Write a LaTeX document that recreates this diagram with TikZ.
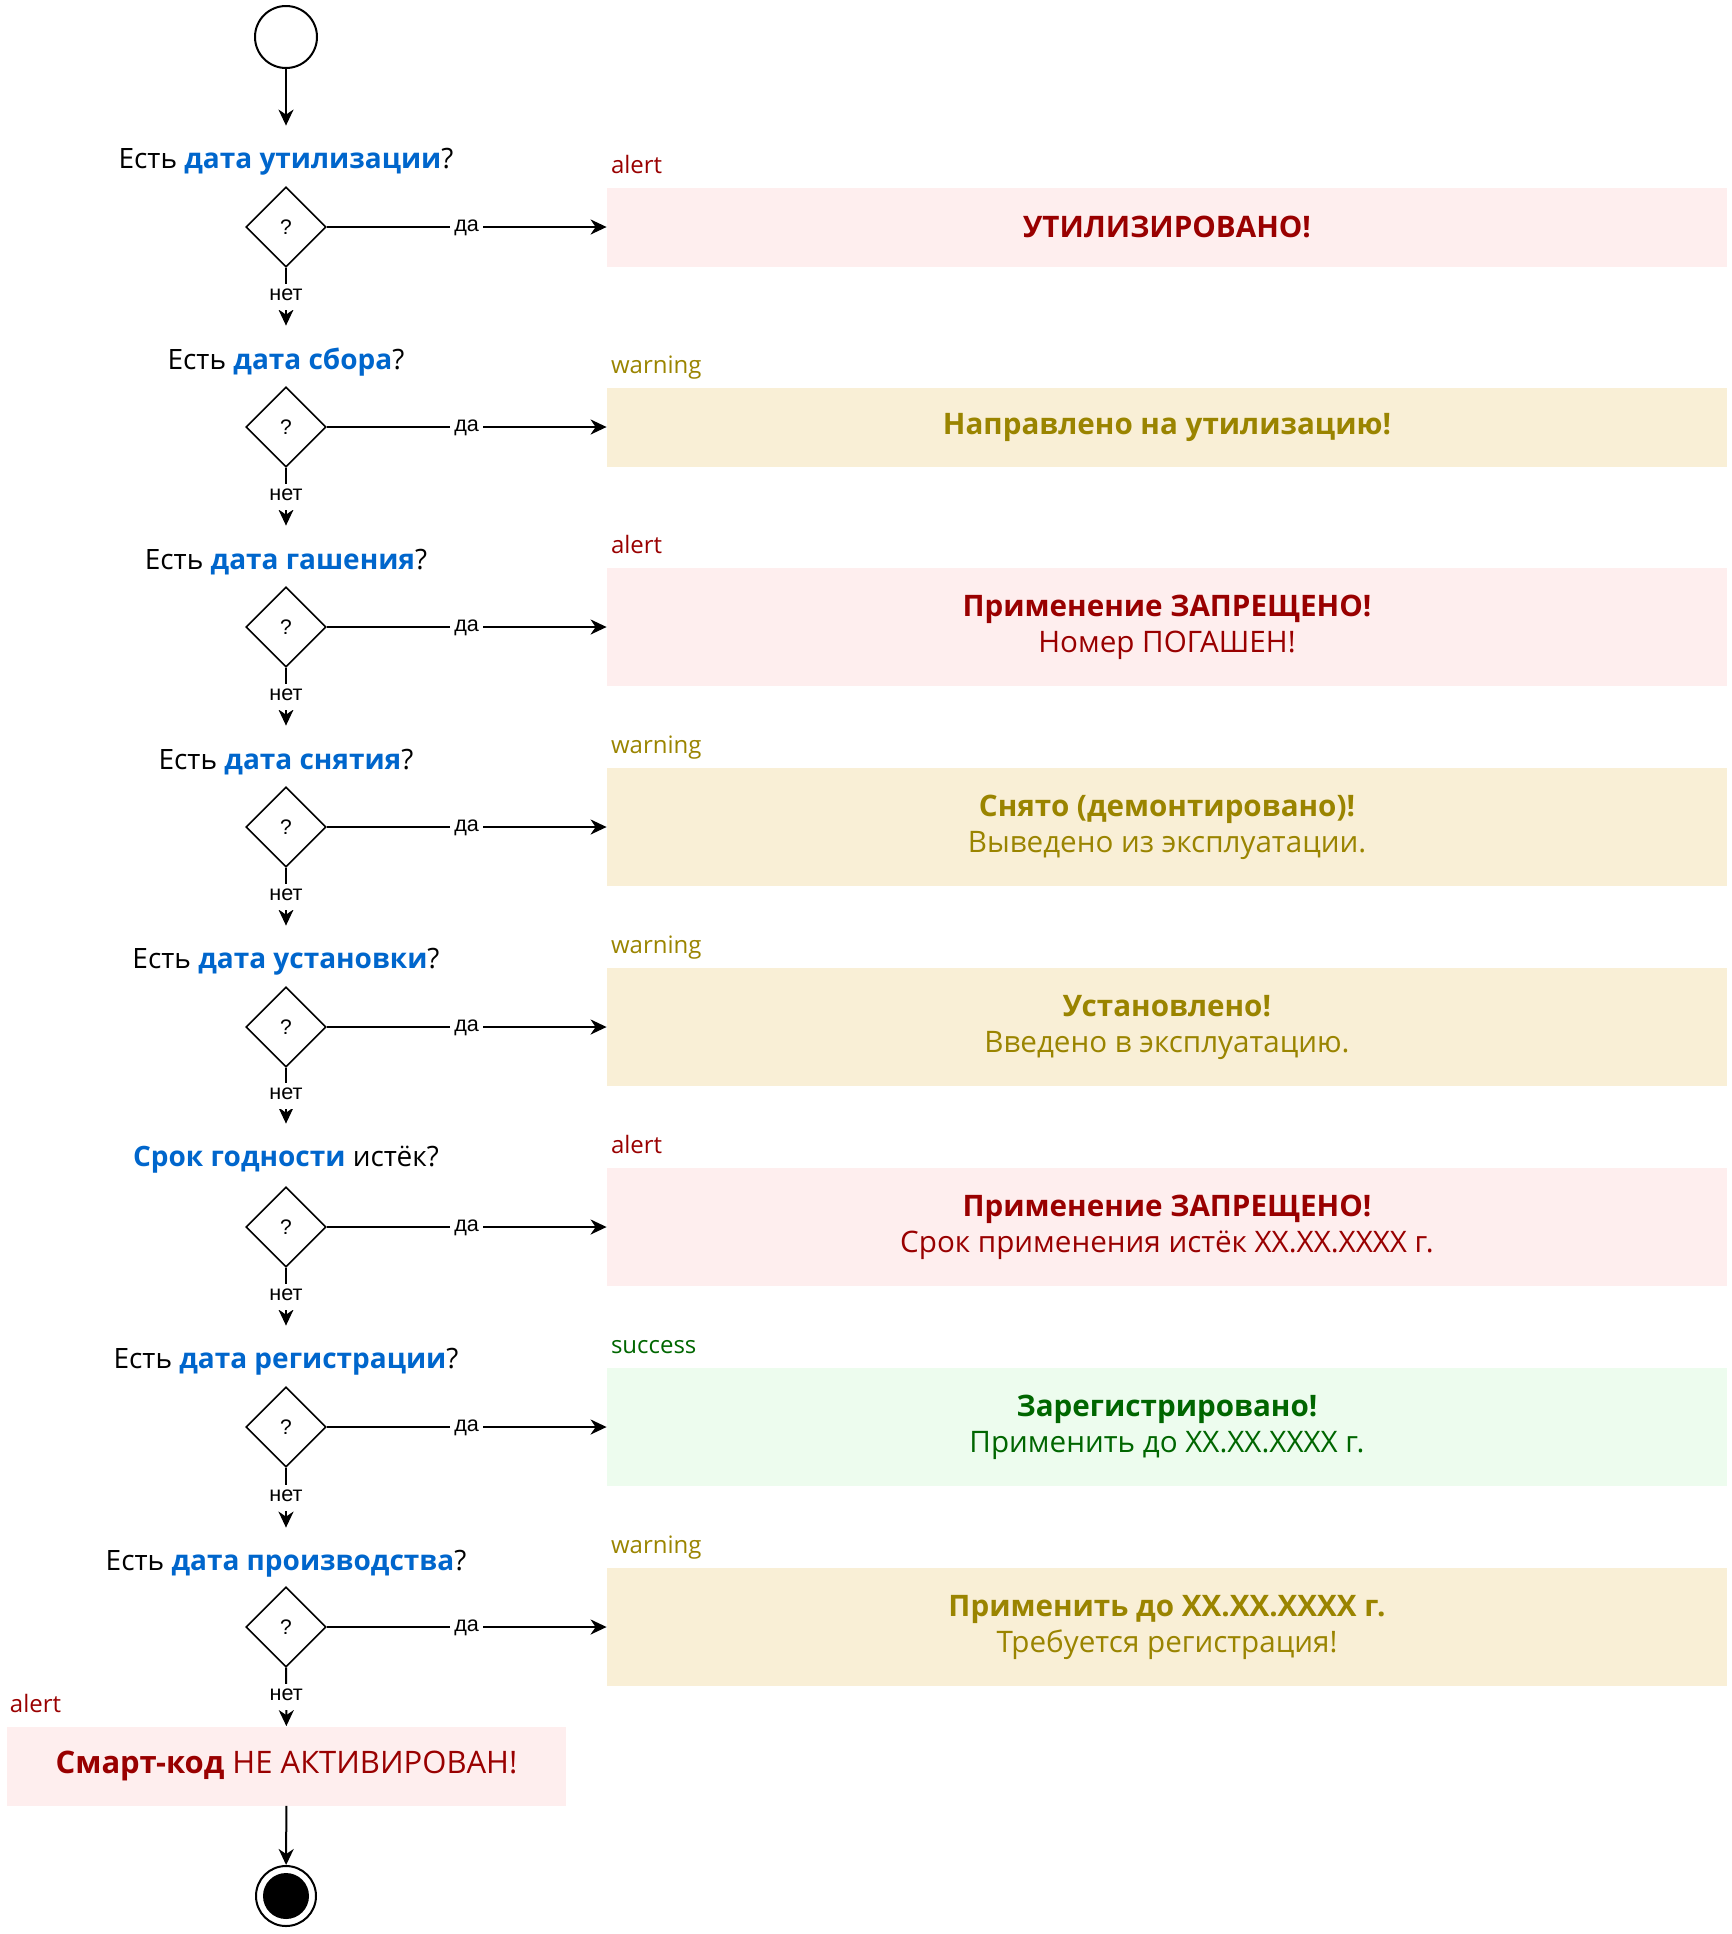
\documentclass[tikz,border=0pt]{standalone}
\usepackage{fontspec}
\setmainfont{Open Sans}
\newfontfamily\labelfont{Liberation Sans}
\usepackage{xcolor}
\usetikzlibrary{arrows.meta,positioning,shapes.geometric}
\definecolor{askblue}{HTML}{0066CC}
\definecolor{alerttext}{HTML}{990000}
\definecolor{alertfill}{HTML}{FEEEEE}
\definecolor{warntext}{HTML}{9A8400}
\definecolor{warnfill}{HTML}{F9EFD6}
\definecolor{oktext}{HTML}{006600}
\definecolor{okfill}{HTML}{EDFCEE}
\tikzset{%
	startdot/.style = {draw, circle, line width=1pt, minimum size=31pt},
	enddot/.style   = {draw, circle, line width=1pt, minimum size=30pt, path picture={\fill (path picture bounding box.center) circle (11.5pt);}},
	question/.style = {minimum height=36pt, text centered, font=\fontsize{14}{17}\selectfont},
	choice/.style   = {draw, diamond, aspect=1, minimum width=40pt, minimum height=40pt, inner sep=0pt, line width=0.8pt, font=\labelfont\fontsize{10.5}{12}\selectfont},
	msgbox/.style   = {rectangle, minimum width=560pt, align=center, font=\fontsize{14.8}{18}\selectfont},
	alertbox/.style = {msgbox, fill=alertfill, text=alerttext},
	warnbox/.style  = {msgbox, fill=warnfill, text=warntext},
	okbox/.style    = {msgbox, fill=okfill, text=oktext},
	short/.style    = {minimum height=39.5pt},
	tall/.style     = {minimum height=59pt},
	tag/.style      = {anchor=base west, inner sep=0pt, font=\fontsize{12}{14}\selectfont},
	answer/.style   = {fill=white, inner sep=2pt, text height=6.5pt, text depth=2.5pt, font=\labelfont\fontsize{10.8}{12}\selectfont},
	arrow/.style    = {line width=1pt, -{Stealth[length=8pt, width=7.5pt, inset=2.5pt]}},
}
\newcommand{\askword}[1]{{\bfseries\color{askblue}#1}}

\begin{document}
\begin{tikzpicture}[x=0.5pt, y=-0.5pt]
	\useasboundingbox (0,0) rectangle (1732,1934);
	
	\node[startdot] (s) at (286,37) {};
	
	\node[question] (q1) at (286,162) {Есть \askword{дата утилизации}?};
	\node[question] (q2) at (286,362) {Есть \askword{дата сбора}?};
	\node[question] (q3) at (286,562) {Есть \askword{дата гашения}?};
	\node[question] (q4) at (286,762) {Есть \askword{дата снятия}?};
	\node[question] (q5) at (286,962) {Есть \askword{дата установки}?};
	\node[question] (q6) at (286,1160) {\askword{Срок годности} истёк?};
	\node[question] (q7) at (286,1362) {Есть \askword{дата регистрации}?};
	\node[question] (q8) at (286,1564) {Есть \askword{дата производства}?};
	
	\node[choice] (d1) at (286,227) {?};
	\node[choice] (d2) at (286,427) {?};
	\node[choice] (d3) at (286,627) {?};
	\node[choice] (d4) at (286,827) {?};
	\node[choice] (d5) at (286,1027) {?};
	\node[choice] (d6) at (286,1227) {?};
	\node[choice] (d7) at (286,1427) {?};
	\node[choice] (d8) at (286,1627) {?};
	
	\node[alertbox,short] (b1) at (1167,227) {\textbf{УТИЛИЗИРОВАНО!}};
	\node[warnbox,short] (b2) at (1167,427) {\textbf{Направлено на утилизацию!}};
	\node[alertbox,tall] (b3) at (1167,627) {\textbf{Применение ЗАПРЕЩЕНО!}\\Номер ПОГАШЕН!};
	\node[warnbox,tall] (b4) at (1167,827) {\textbf{Снято (демонтировано)!}\\Выведено из эксплуатации.};
	\node[warnbox,tall] (b5) at (1167,1027) {\textbf{Установлено!}\\Введено в эксплуатацию.};
	\node[alertbox,tall] (b6) at (1167,1227) {\textbf{Применение ЗАПРЕЩЕНО!}\\Срок применения истёк XX.XX.XXXX г.};
	\node[okbox,tall] (b7) at (1167,1427) {\textbf{Зарегистрировано!}\\Применить до XX.XX.XXXX г.};
	\node[warnbox,tall] (b8) at (1167,1627) {\textbf{Применить до XX.XX.XXXX г.}\\Требуется регистрация!};
	
	\node[alertbox,short,minimum width=279.5pt,font=\fontsize{15.5}{18}\selectfont] (b9) at (286.5,1766) {\textbf{Смарт-код} НЕ АКТИВИРОВАН!};
	\node[enddot] (e) at (286,1896) {};
	
	\node[tag,text=alerttext] at ([xshift=2pt,yshift=7pt]b1.north west) {alert};
	\node[tag,text=warntext] at ([xshift=2pt,yshift=7pt]b2.north west) {warning};
	\node[tag,text=alerttext] at ([xshift=2pt,yshift=7pt]b3.north west) {alert};
	\node[tag,text=warntext] at ([xshift=2pt,yshift=7pt]b4.north west) {warning};
	\node[tag,text=warntext] at ([xshift=2pt,yshift=7pt]b5.north west) {warning};
	\node[tag,text=alerttext] at ([xshift=2pt,yshift=7pt]b6.north west) {alert};
	\node[tag,text=oktext] at ([xshift=2pt,yshift=7pt]b7.north west) {success};
	\node[tag,text=warntext] at ([xshift=2pt,yshift=7pt]b8.north west) {warning};
	\node[tag,text=alerttext] at ([xshift=1.5pt,yshift=7pt]b9.north west) {alert};
	
	% yes branches
	\draw[arrow] (d1) -- node[answer] {да} (b1);
	\draw[arrow] (d2) -- node[answer] {да} (b2);
	\draw[arrow] (d3) -- node[answer] {да} (b3);
	\draw[arrow] (d4) -- node[answer] {да} (b4);
	\draw[arrow] (d5) -- node[answer] {да} (b5);
	\draw[arrow] (d6) -- node[answer] {да} (b6);
	\draw[arrow] (d7) -- node[answer] {да} (b7);
	\draw[arrow] (d8) -- node[answer] {да} (b8);
	
	% no branches
	\draw[arrow] (s) -- (q1);
	\draw[arrow] (d1) -- node[answer] {нет} (q2);
	\draw[arrow] (d2) -- node[answer] {нет} (q3);
	\draw[arrow] (d3) -- node[answer] {нет} (q4);
	\draw[arrow] (d4) -- node[answer] {нет} (q5);
	\draw[arrow] (d5) -- node[answer] {нет} (q6);
	\draw[arrow] (d6) -- node[answer] {нет} (q7);
	\draw[arrow] (d7) -- node[answer] {нет} (q8);
	\draw[arrow] (d8) -- node[answer] {нет} (b9);
	\draw[arrow] (b9) -- (e);
	
\end{tikzpicture}
\end{document}
